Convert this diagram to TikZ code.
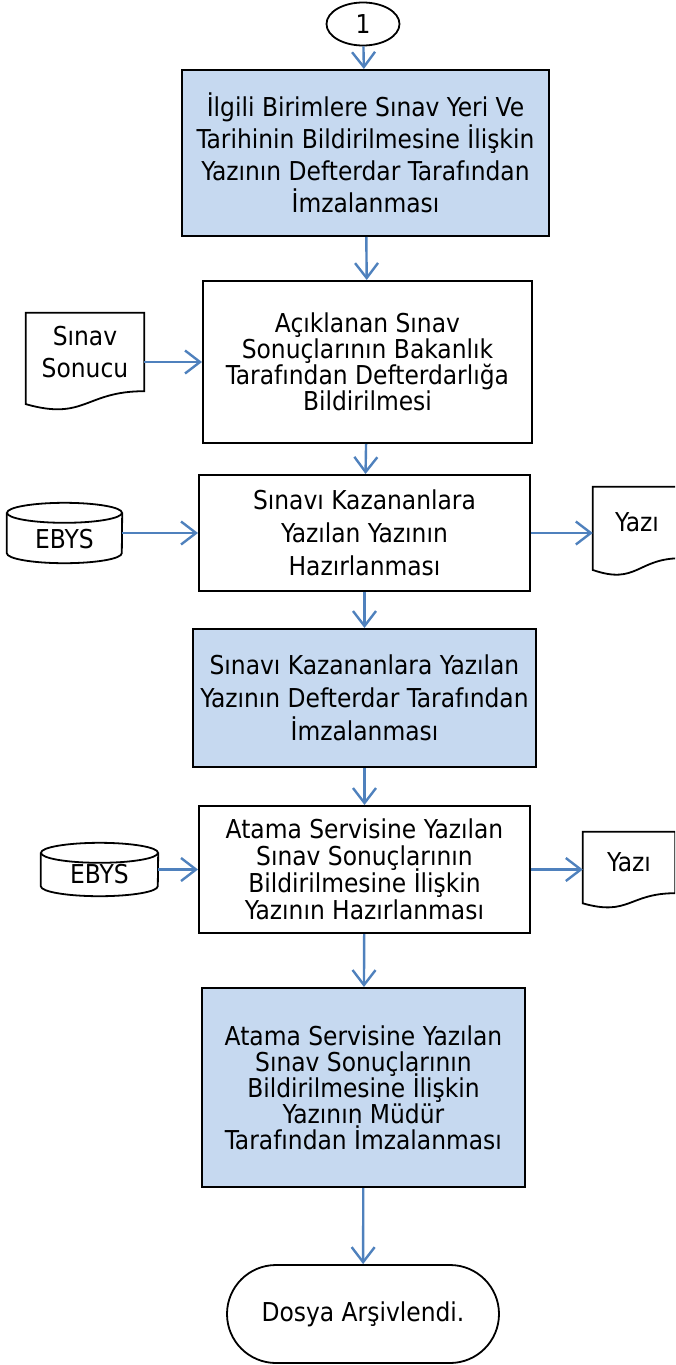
\documentclass[tikz,border=0pt]{standalone}
\usepackage{fontspec}
\IfFontExistsTF{DejaVu Sans Condensed}{\setmainfont{DejaVu Sans Condensed}}{\setmainfont{DejaVu Sans}[Scale=0.9]}
\usepackage{xcolor}
\definecolor{box-blue}{RGB}{198,217,240}
\definecolor{line-blue}{RGB}{79,129,189}
\usetikzlibrary{shapes.geometric,calc,arrows.meta}
\newcommand{\tightfont}[1]{\fontsize{26}{#1}\selectfont\lineskiplimit=-20pt\relax}
\newcommand{\docshape}[1]{%
	\draw[line width=1.8pt] (#1.south east)
		.. controls (#1.south) and ($(#1.south)!-0.38!(#1.north)$)
		.. ($(#1.south west)!-0.165!(#1.north west)$)
		-- (#1.north west) -- (#1.north east) -- cycle;}
\newcommand{\dbshape}[2]{%
	\draw[line width=1.8pt] ([yshift=-10pt]#1.north) ellipse [x radius=#2, y radius=10pt];
	\draw[line width=1.8pt] ([yshift=-10pt]#1.north west) -- ([yshift=10pt]#1.south west)
		arc [start angle=180, end angle=360, x radius=#2, y radius=10pt]
		-- ([yshift=-10pt]#1.north east);}

\begin{document}
\begin{tikzpicture}[x=1pt,y=1pt,
	font=\tightfont{32},
	proc/.style={draw, line width=2pt, inner sep=0pt, align=center},
	procblue/.style={proc, fill=box-blue},
	tight/.style={font=\tightfont{#1}},
	akis/.style={draw=line-blue, line width=2.4pt,
		-{Straight Barb[length=15pt, width=23pt]}}]
	\useasboundingbox (0,0) rectangle (675,-1365);
	\clip (0,0) rectangle (675,-1365);
	
	\node[ellipse, draw, line width=1.8pt, inner sep=0pt,
		minimum width=73pt, minimum height=43pt] (one) at (363,-24) {1};
	
	\node[procblue, minimum width=367pt, minimum height=166pt] (imza1) at (365.5,-153)
		{İlgili Birimlere Sınav Yeri Ve\\Tarihinin Bildirilmesine İlişkin\\
		Yazının Defterdar Tarafından\\İmzalanması};
	
	\node[proc, tight=26, minimum width=329pt, minimum height=162pt] (bildir) at (367.5,-362)
		{Açıklanan Sınav\\Sonuçlarının Bakanlık\\Tarafından Defterdarlığa\\Bildirilmesi};
	
	\node[proc, tight=33, minimum width=331pt, minimum height=116pt] (hazir1) at (364.5,-533)
		{Sınavı Kazananlara\\Yazılan Yazının\\Hazırlanması};
	
	\node[procblue, tight=33, minimum width=343pt, minimum height=138pt] (imza2) at (364.5,-698)
		{Sınavı Kazananlara Yazılan\\Yazının Defterdar Tarafından\\İmzalanması};
	
	\node[proc, tight=27, minimum width=331pt, minimum height=127pt] (hazir2) at (364.5,-869.5)
		{Atama Servisine Yazılan\\Sınav Sonuçlarının\\Bildirilmesine İlişkin\\Yazının Hazırlanması};
	
	\node[procblue, tight=26, minimum width=323pt, minimum height=199pt] (imza3) at (363.5,-1087.5)
		{Atama Servisine Yazılan\\Sınav Sonuçlarının\\Bildirilmesine İlişkin\\Yazının Müdür\\
		Tarafından İmzalanması};
	
	\node[draw, line width=1.8pt, rounded corners=49pt, inner sep=0pt,
		minimum width=272pt, minimum height=98pt] (arsiv) at (363,-1314) {Dosya Arşivlendi.};
	
%	=======================================

	\node[inner sep=0pt, align=center, minimum width=118pt, minimum height=78pt]
		(sonuc) at (85,-352) {Sınav\\Sonucu};
	\docshape{sonuc}
	
	\node[inner sep=0pt, minimum width=115pt, minimum height=60pt] (ebys1) at (64.5,-533)
		{\raisebox{-6pt}[\height][\depth]{EBYS}};
	\dbshape{ebys1}{57.5pt}
	
	\node[inner sep=0pt, minimum width=88pt, minimum height=71pt] (yazi1) at (637,-522.5) {Yazı};
	\docshape{yazi1}
	
	\node[inner sep=0pt, minimum width=117pt, minimum height=53pt] (ebys2) at (99.5,-869.5)
		{\raisebox{-5pt}[\height][\depth]{EBYS}};
	\dbshape{ebys2}{58.5pt}
	
	\node[inner sep=0pt, minimum width=92pt, minimum height=61pt] (yazi2) at (629,-862.5) {Yazı};
	\docshape{yazi2}
	
%	=======================================

	\draw[akis] (one) -- (imza1);
	\draw[akis] (imza1) -- (bildir);
	\draw[akis] (bildir) -- (hazir1);
	\draw[akis] (hazir1) -- (imza2);
	\draw[akis] (imza2) -- (hazir2);
	\draw[akis] (hazir2) -- (imza3);
	\draw[akis] (imza3) -- (arsiv);
	
	\draw[akis] (bildir.west -| sonuc.east) -- (bildir.west);
	\draw[akis] (hazir1.west -| ebys1.east) -- (hazir1.west);
	\draw[akis] (hazir1.east) -- (hazir1.east -| yazi1.west);
	\draw[akis] (hazir2.west -| ebys2.east) -- (hazir2.west);
	\draw[akis] (hazir2.east) -- (hazir2.east -| yazi2.west);
\end{tikzpicture}
\end{document}
